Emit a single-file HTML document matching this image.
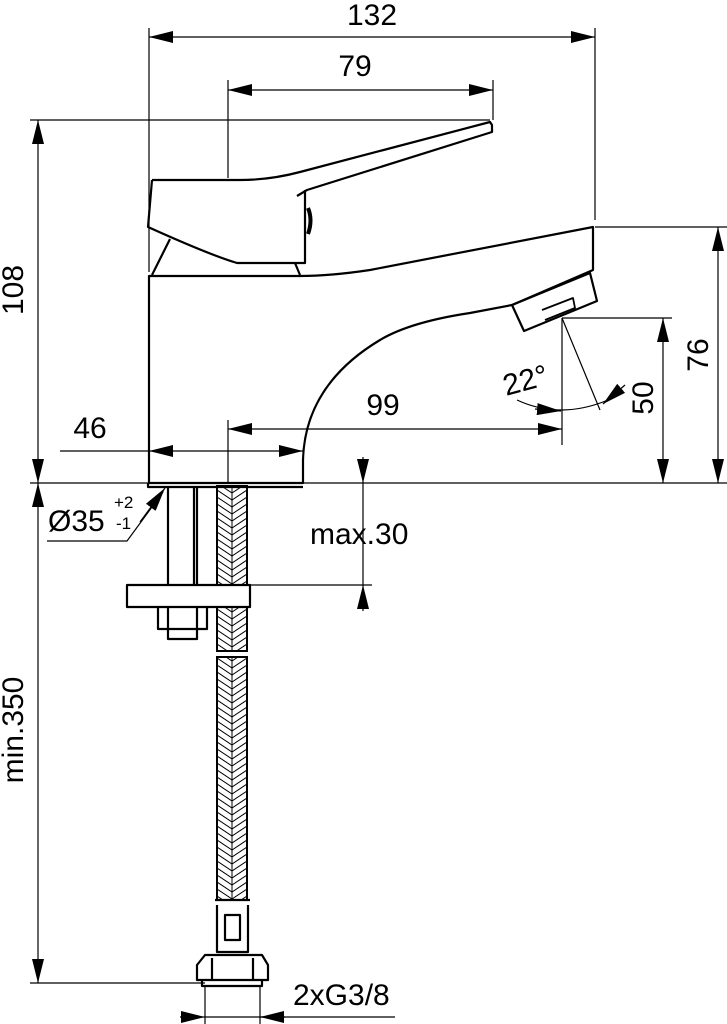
<!DOCTYPE html>
<html><head><meta charset="utf-8"><style>
html,body{margin:0;padding:0;background:#fff}
svg{display:block}
text{font-family:"Liberation Sans",Arial,sans-serif;fill:#000}
</style></head><body>
<svg width="727" height="1024" viewBox="0 0 727 1024" xmlns="http://www.w3.org/2000/svg">
<defs>
<pattern id="hb" x="217" y="0" width="30" height="14" patternUnits="userSpaceOnUse">
<path d="M0,0 L15,10 L30,0 M0,7 L15,17 L30,7 M0,-7 L15,3 L30,-7 M15,0 L15,14" stroke="#000" stroke-width="1" fill="none"/>
</pattern>
<marker id="a" viewBox="0 0 24 12" refX="24" refY="6" markerWidth="24" markerHeight="12" markerUnits="userSpaceOnUse" orient="auto-start-reverse"><path d="M0,0 L24,6 L0,12 Z" fill="#000"/></marker>
</defs>
<g stroke="#000" fill="none" stroke-width="1.2">
<line x1="149" y1="28" x2="149" y2="272"/>
<line x1="595" y1="28" x2="595" y2="220"/>
<line x1="228" y1="80" x2="228" y2="178"/>
<line x1="493" y1="80" x2="493" y2="120"/>
<line x1="30" y1="120" x2="490" y2="120"/>
<line x1="595" y1="227" x2="727" y2="227"/>
<line x1="562" y1="318" x2="672" y2="318"/>
<line x1="30" y1="483" x2="727" y2="483"/>
<line x1="562" y1="318" x2="562" y2="445"/>
<line x1="228" y1="420" x2="228" y2="482"/>
<line x1="60" y1="451" x2="149" y2="451"/>
<line x1="250" y1="585" x2="372" y2="585"/>
<line x1="30" y1="983" x2="205" y2="983"/>
<line x1="205" y1="986" x2="205" y2="1024"/>
<line x1="260" y1="986" x2="260" y2="1024"/>
<line x1="149" y1="37" x2="595" y2="37" marker-start="url(#a)" marker-end="url(#a)"/>
<line x1="228" y1="90" x2="493" y2="90" marker-start="url(#a)" marker-end="url(#a)"/>
<line x1="38" y1="120" x2="38" y2="483" marker-start="url(#a)" marker-end="url(#a)"/>
<line x1="718" y1="227" x2="718" y2="483" marker-start="url(#a)" marker-end="url(#a)"/>
<line x1="663" y1="318" x2="663" y2="483" marker-start="url(#a)" marker-end="url(#a)"/>
<line x1="149" y1="451" x2="303" y2="451" marker-start="url(#a)" marker-end="url(#a)"/>
<line x1="228" y1="429" x2="562" y2="429" marker-start="url(#a)" marker-end="url(#a)"/>
<line x1="38" y1="483" x2="38" y2="983" marker-start="url(#a)" marker-end="url(#a)"/>
<line x1="363" y1="457" x2="363" y2="483" marker-end="url(#a)"/>
<line x1="363" y1="611" x2="363" y2="585" marker-end="url(#a)"/>
<line x1="363" y1="483" x2="363" y2="585"/>
<line x1="180" y1="1017" x2="205" y2="1017" marker-end="url(#a)"/>
<line x1="285" y1="1017" x2="260" y2="1017" marker-end="url(#a)"/>
<line x1="205" y1="1017" x2="395" y2="1017"/>
<line x1="562" y1="318" x2="600" y2="410"/>
<path d="M517,400 Q560,420 608,400"/>
<line x1="535" y1="409" x2="561" y2="411" marker-end="url(#a)"/>
<line x1="625" y1="385" x2="603" y2="404" marker-end="url(#a)"/>
<polyline points="47,541 127,541 163,492"/>
<line x1="140" y1="522" x2="165" y2="488" marker-end="url(#a)"/>
</g>
<g stroke="#000" fill="none" stroke-width="2.2" stroke-linejoin="round">
<path d="M149,483 L149,276 L300,276 Q330,276 370,270 L593,227 L593,270 L512,305 L470,313 Q410,322 380,340 Q305,385 303,460 L303,483 Z"/>
<path d="M512,305 L590,273 L597,301 L524,331 Z"/>
<path d="M542,310 L573,298 L575,308 L545,320" stroke-width="1.8"/>
<path d="M152,180 L240,180 Q270,180 300,172 L490,122 L492,125 L492,132 L307,190 L297,196"/>
<path d="M152,180 L148,227 Q210,255 237,263 L305,263 L305,190"/>
<path d="M170,239 L152,275 M295,263 L300,275"/>
<path d="M308,208 Q313,220 308,234" stroke-width="4"/>
<path d="M148,483 L148,487 L303,487"/>
<path d="M168,486 L168,585 M194,486 L194,585 M197,486 L197,585"/>
<path d="M127,585 L250,585 L250,607 L127,607 Z"/>
<path d="M158,607 L158,629 L207,629 L207,607 M168,629 L168,639 L197,639 L197,629 M168,607 L168,629 M197,607 L197,629"/>
<path d="M215,900 L250,900 M217,905 L217,952 L248,952 L248,905 M225,915 L240,915 L240,940 L225,940 Z"/>
<path d="M197,965 L205,955 L262,955 L268,965 L268,980 L197,980 Z M212,958 L212,980 M253,958 L253,980 M202,980 L202,986 L262,986 L262,980"/>
</g>
<rect x="217" y="486" width="30" height="99" fill="url(#hb)" stroke="#000" stroke-width="2"/>
<rect x="217" y="607" width="30" height="44" fill="url(#hb)" stroke="#000" stroke-width="2"/>
<rect x="217" y="657" width="30" height="243" fill="url(#hb)" stroke="#000" stroke-width="2"/>
<g font-size="30">
<text x="372" y="25" text-anchor="middle">132</text>
<text x="355" y="76" text-anchor="middle">79</text>
<text x="90" y="438" text-anchor="middle">46</text>
<text x="383" y="415" text-anchor="middle">99</text>
<text x="310" y="544">max.30</text>
<text x="293" y="1005">2xG3/8</text>
<text x="48" y="531">Ø35</text>
<text transform="translate(23,290) rotate(-90)" text-anchor="middle">108</text>
<text transform="translate(708,355) rotate(-90)" text-anchor="middle">76</text>
<text transform="translate(653,398) rotate(-90)" text-anchor="middle">50</text>
<text transform="translate(23,730) rotate(-90)" text-anchor="middle">min.350</text>
<text transform="translate(528,390) rotate(-15)" text-anchor="middle">22°</text>
</g>
<text x="114" y="508" font-size="17">+2</text>
<text x="116" y="529" font-size="17">-1</text>
</svg>
</body></html>
